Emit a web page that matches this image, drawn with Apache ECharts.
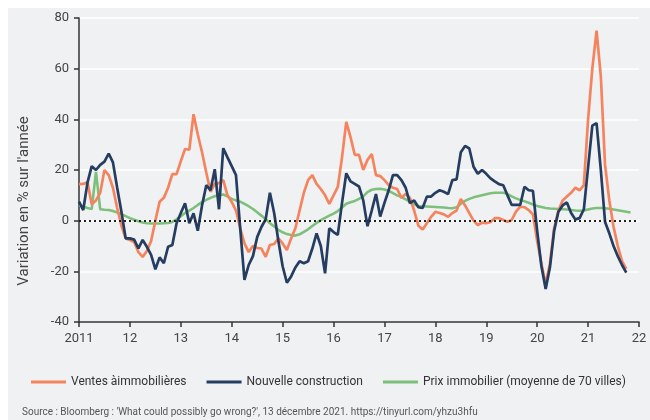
<!DOCTYPE html>
<html>
<head>
<meta charset="utf-8">
<script src="https://cdn.jsdelivr.net/npm/echarts@6/dist/echarts.min.js"></script>
<style>
html,body{margin:0;padding:0;background:#ffffff;}
#bg{position:absolute;left:8px;top:8px;width:642px;height:412px;background:#f0f1f3;}
#chart{position:absolute;left:0;top:0;width:650px;height:420px;}
</style>
</head>
<body>
<div id="bg"></div>
<div id="chart"></div>
<script>
// Monthly data starting January 2011
const startYear = 2011;
const seriesNames = ['Ventes àimmobilières', 'Nouvelle construction', 'Prix immobilier (moyenne de 70 villes)'];
const xTickLabels = ['2011','12','13','14','15','16','17','18','19','20','21','22'];
const yTicks = [-40, -20, 0, 20, 40, 60, 80];
const yAxisTitle = "Variation en % sur l'année";
const sourceText = "Source : Bloomberg : 'What could possibly go wrong?', 13 décembre 2021. https://tinyurl.com/yhzu3hfu";

const ventes = [
  14.4, 14.5, 15.2, 6.5, 8, 11, 20, 18, 13, 5, -2, -7,
  -7.6, -8.4, -12.4, -14.3, -12, -8, 0, 7.5, 9, 13, 18.4, 18.4,
  23.5, 28.3, 28, 42, 34, 27, 19, 11.4, 14.5, 14.8, 16, 10,
  7.4, 4, -3, -9, -12.4, -10, -10.8, -11, -14.3, -9.6, -9.2, -7,
  -9, -11.6, -7, -3, 4, 11, 16, 18, 14.5, 12.5, 10, 6.6,
  10, 13.3, 25, 39, 33, 26, 26, 20, 24, 26.3, 18, 17.6,
  16, 14, 13, 12.5, 9, 10.5, 9, 4, -2, -3.5, -1, 1.5,
  3.5, 3, 2.5, 1.5, 3, 4, 8.6, 6, 3, 0, -1.7, -0.8,
  -1, -0.5, 1, 1, 0.3, -0.4, 0.3, 3.6, 5.5, 5.3, 4.2, 2.5,
  -8, -17, -25, -17, -3, 4, 8, 9.5, 11, 13, 12, 14,
  40, 60, 75, 57, 22, 8, -2.4, -10, -16, -19
];

const construction = [
  7.5, 4.2, 15, 21.5, 20, 22, 23.3, 26.5, 23, 13, 3.5, -7,
  -7, -7.5, -10.9, -7.6, -10.3, -13.5, -19.2, -14.5, -16.8, -10.3, -9.6, -1,
  3, 6.9, -1, 2.9, -4, 6, 14, 12, 20.3, 4.5, 28.6, 25,
  21.5, 18, -3, -23.4, -17.5, -14, -6.5, -2.5, 0.5, 11, 3, -8,
  -18, -24.5, -22, -18.5, -16, -16.8, -16, -11, -5, -10, -20.8, -3,
  -4.5, -5.6, 7, 18.7, 15.5, 14.5, 13.5, 8, -2.2, 4, 10.5, 1.6,
  7, 12, 18, 18, 16, 13, 6.9, 8, 5.3, 5, 9.5, 9.5,
  11, 12, 11.4, 10.5, 16, 16.3, 27, 29.5, 28.5, 21.3, 18.5, 20,
  18.5, 16.7, 15.5, 14.4, 14, 10, 6.2, 6.2, 6.2, 13.4, 12, 11.8,
  -4, -18, -27, -18.5, -4, 3.5, 6, 7.2, 3, 0.5, 1, 4.5,
  21, 37.5, 38.5, 20, -0.5, -5, -10, -14, -17.5, -20.5
];

const prix = [
  6.2, 5.5, 5, 4.6, 19.3, 4.5, 4.3, 4.2, 3.8, 3.2, 2.6, 1.8,
  1, 0.4, -0.2, -0.7, -1, -1.1, -1.1, -1.1, -1, -0.9, -0.5, 0.5,
  1.8, 3, 4, 5, 6.2, 7.3, 8.2, 9, 9.6, 10.2, 10.3, 9.6,
  8.6, 8, 7.5, 6.6, 5.7, 4.6, 3.3, 2, 0.6, -1, -2.3, -3.6,
  -4.6, -5.3, -5.7, -5.9, -5.4, -4.4, -3.4, -2.1, -0.9, 0.2, 1.1, 2,
  2.8, 3.8, 5.2, 6.7, 7.3, 7.8, 8.6, 9.6, 11.3, 12.2, 12.5, 12.6,
  12.3, 11.8, 10.9, 10, 9.3, 8.4, 7.5, 6.5, 5.8, 5.7, 5.6, 5.5,
  5.4, 5.3, 5.2, 5, 4.9, 5.3, 6.7, 7.8, 8.6, 9.2, 9.6, 10,
  10.4, 10.8, 11, 11, 11, 10.5, 9.6, 8.8, 8.2, 7.7, 7.1, 6.4,
  5.8, 5.4, 5, 4.8, 4.7, 4.6, 4.5, 4.4, 4.2, 4, 3.9, 4,
  4.4, 4.8, 5, 5, 4.9, 4.7, 4.4, 4.1, 3.8, 3.5, 3.2
];

const colors = ['#f5845e', '#243d60', '#7dc07b'];
const font = "Roboto, 'Noto Sans', sans-serif";

function toPairs(arr) {
  return arr.map((v, i) => [startYear + i / 12, v]);
}

const chart = echarts.init(document.getElementById('chart'), null, {renderer: 'canvas'});
chart.setOption({
  animation: false,
  backgroundColor: 'transparent',
  textStyle: {fontFamily: font},
  grid: {left: 79, right: 11, top: 18, bottom: 98, containLabel: false},
  xAxis: {
    type: 'value', min: 2011, max: 2022, interval: 1,
    axisLine: {show: true, onZero: false, lineStyle: {color: '#333', width: 1.5}},
    axisTick: {show: true, length: 5, lineStyle: {color: '#333', width: 1.5}},
    splitLine: {show: false},
    axisLabel: {
      color: '#444', fontSize: 13, fontFamily: font, margin: 10,
      formatter: v => xTickLabels[Math.round(v - startYear)]
    }
  },
  yAxis: {
    type: 'value', min: yTicks[0], max: yTicks[yTicks.length - 1], interval: 20,
    axisLine: {show: true, lineStyle: {color: '#333', width: 1.5}},
    axisTick: {show: true, length: 5, lineStyle: {color: '#333', width: 1.5}},
    splitLine: {show: true, lineStyle: {color: '#ffffff', width: 1.5}},
    axisLabel: {color: '#444', fontSize: 13, fontFamily: font, margin: 10}
  },
  legend: {
    left: 26, top: 371, width: 640, orient: 'horizontal',
    itemWidth: 35, itemHeight: 3, itemGap: 20, icon: 'rect',
    textStyle: {color: '#333', fontSize: 12, fontFamily: font},
    data: seriesNames
  },
  graphic: [
    {
      type: 'text', x: 24, y: 201, rotation: Math.PI / 2,
      style: {text: yAxisTitle, fill: '#444', fontSize: 15, fontFamily: font,
        align: 'center', verticalAlign: 'middle'}
    },
    {
      type: 'text', left: 22, top: 407,
      style: {text: sourceText, fill: '#555', fontSize: 10, fontFamily: font}
    }
  ],
  series: [
    {name: seriesNames[2], type: 'line', data: toPairs(prix), showSymbol: false, symbol: 'none',
     lineStyle: {color: colors[2], width: 2.6}, itemStyle: {color: colors[2]}, z: 2,
     markLine: {silent: true, symbol: 'none', label: {show: false},
       lineStyle: {color: '#222', type: [2, 3], width: 2}, data: [{yAxis: 0}]}},
    {name: seriesNames[0], type: 'line', data: toPairs(ventes), showSymbol: false, symbol: 'none',
     lineStyle: {color: colors[0], width: 2.7}, itemStyle: {color: colors[0]}, z: 3},
    {name: seriesNames[1], type: 'line', data: toPairs(construction), showSymbol: false, symbol: 'none',
     lineStyle: {color: colors[1], width: 2.7}, itemStyle: {color: colors[1]}, z: 4}
  ]
});
</script>
</body>
</html>
